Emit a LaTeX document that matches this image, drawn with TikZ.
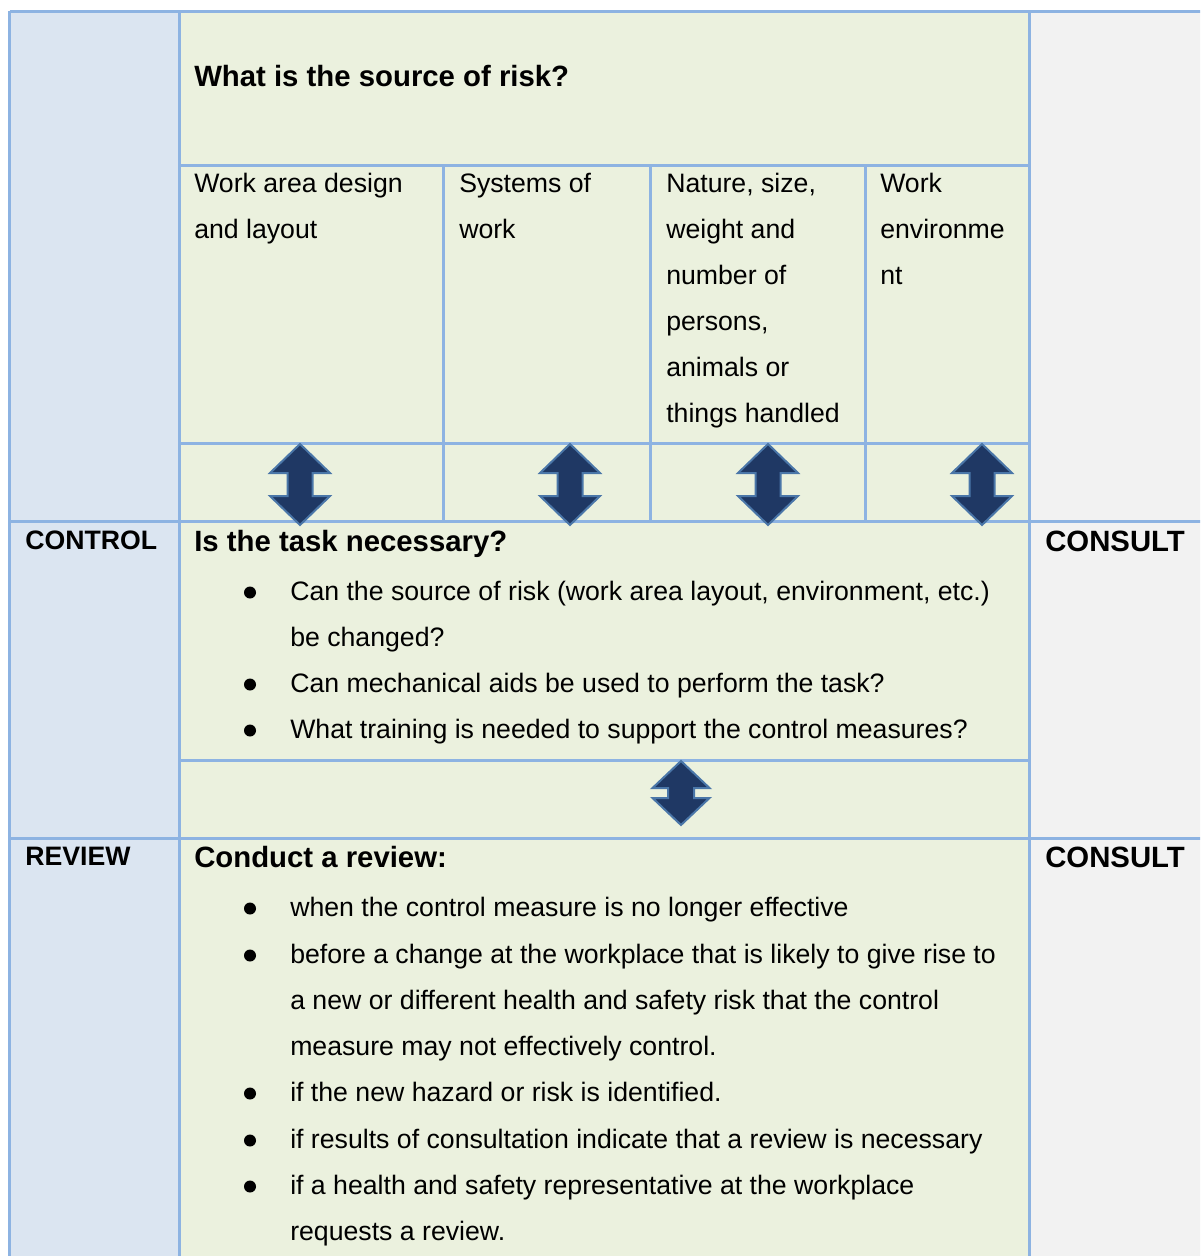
\documentclass[tikz,border=0pt]{standalone}
\usepackage{fontspec}
\setmainfont{Liberation Sans}
\begin{document}
\definecolor{sideblue}{HTML}{DBE5F1}
\definecolor{midgreen}{HTML}{EBF1DE}
\definecolor{sidegrey}{HTML}{F2F2F2}
\definecolor{rulecol}{HTML}{8DB3E2}
\definecolor{arrowfill}{HTML}{1F3864}
\definecolor{arrowedge}{HTML}{4A76A8}
\tikzset{
  rule/.style={draw=rulecol, line width=2.25pt},
  txt/.style={anchor=base west, inner sep=0pt, font=\fontsize{20}{24}\selectfont},
  hd/.style={anchor=base west, inner sep=0pt, font=\fontsize{22}{26}\selectfont\bfseries},
  sidehd/.style={anchor=base west, inner sep=0pt, font=\fontsize{20}{24}\selectfont\bfseries},
  arrowbox/.style={fill=arrowfill, draw=arrowedge, line width=1.5pt, line join=miter},
  bullet/.style={fill=black}
}
% vertical double-headed block arrow: centre x, top y, bottom y, half width, half shaft, head height
\newcommand{\udarrow}[6]{%
  \draw[arrowbox] (#1,#2) -- (#1+#4,#2+#6) -- (#1+#5,#2+#6) -- (#1+#5,#3-#6)
    -- (#1+#4,#3-#6) -- (#1,#3) -- (#1-#4,#3-#6) -- (#1-#5,#3-#6)
    -- (#1-#5,#2+#6) -- (#1-#4,#2+#6) -- cycle;}
\begin{tikzpicture}[x=0.75pt, y=-0.75pt]
\useasboundingbox (0,0) rectangle (1200,1256);
\clip (0,0) rectangle (1200,1256);
\fill[white] (0,0) rectangle (1200,1256);
% column backgrounds
\fill[sideblue] (9.5,11.5) rectangle (179,1270);
\fill[midgreen] (179,11.5) rectangle (1029.5,1270);
\fill[sidegrey] (1029.5,11.5) rectangle (1220,1270);
% grid rules
\draw[rule] (9.5,11.5) -- (1220,11.5);
\draw[rule] (9.5,11.5) -- (9.5,1270);
\draw[rule] (179,11.5) -- (179,1270);
\draw[rule] (1029.5,11.5) -- (1029.5,1270);
\draw[rule] (179,165) -- (1029.5,165);
\draw[rule] (179,443) -- (1029.5,443);
\draw[rule] (443,165) -- (443,521);
\draw[rule] (650.5,165) -- (650.5,521);
\draw[rule] (865.5,165) -- (865.5,521);
\draw[rule] (9.5,521) -- (1220,521);
\draw[rule] (179,760) -- (1029.5,760);
\draw[rule] (9.5,838) -- (1220,838);
% arrows between the sections
\udarrow{300}{444}{525}{30}{12.5}{29}
\udarrow{570}{444}{525}{30}{12.5}{29}
\udarrow{768}{444}{525}{30}{12.5}{29}
\udarrow{982}{444}{525}{30}{12.5}{29}
\udarrow{681}{761}{825}{28.5}{13}{27}
% source of risk
\node[hd] (srcq) at (194,86) {What is the source of risk?};
\node[txt] (a1) at (194,192) {Work area design};
\node[txt] (a2) at (194,238) {and layout};
\node[txt] (b1) at (459,192) {Systems of};
\node[txt] (b2) at (459,238) {work};
\node[txt] (c1) at (666,192) {Nature, size,};
\node[txt] (c2) at (666,238) {weight and};
\node[txt] (c3) at (666,284) {number of};
\node[txt] (c4) at (666,330) {persons,};
\node[txt] (c5) at (666,376) {animals or};
\node[txt] (c6) at (666,422) {things handled};
\node[txt] (d1) at (880,192) {Work};
\node[txt] (d2) at (880,238) {environme};
\node[txt] (d3) at (880,284) {nt};
% control row
\node[sidehd] (ctl) at (25,549) {CONTROL};
\node[hd] (cons1) at (1045,551) {CONSULT};
\node[hd] (taskq) at (194,551) {Is the task necessary?};
\node[txt] (k1) at (290,600) {Can the source of risk (work area layout, environment, etc.)};
\node[txt] (k1b) at (290,646) {be changed?};
\node[txt] (k2) at (290,692) {Can mechanical aids be used to perform the task?};
\node[txt] (k3) at (290,738) {What training is needed to support the control measures?};
\foreach \yy in {600,692,738} \fill[bullet] (250,\yy-7.5) circle (6);
% review row
\node[sidehd] (rev) at (25,865) {REVIEW};
\node[hd] (cons2) at (1045,867) {CONSULT};
\node[hd] (revq) at (194,867) {Conduct a review:};
\node[txt] (r1) at (290,916) {when the control measure is no longer effective};
\node[txt] (r2) at (290,963) {before a change at the workplace that is likely to give rise to};
\node[txt] (r2b) at (290,1009) {a new or different health and safety risk that the control};
\node[txt] (r2c) at (290,1055) {measure may not effectively control.};
\node[txt] (r3) at (290,1101) {if the new hazard or risk is identified.};
\node[txt] (r4) at (290,1148) {if results of consultation indicate that a review is necessary};
\node[txt] (r5) at (290,1194) {if a health and safety representative at the workplace};
\node[txt] (r5b) at (290,1240) {requests a review.};
\foreach \yy in {916,963,1101,1148,1194} \fill[bullet] (250,\yy-7.5) circle (6);
\end{tikzpicture}
\end{document}
